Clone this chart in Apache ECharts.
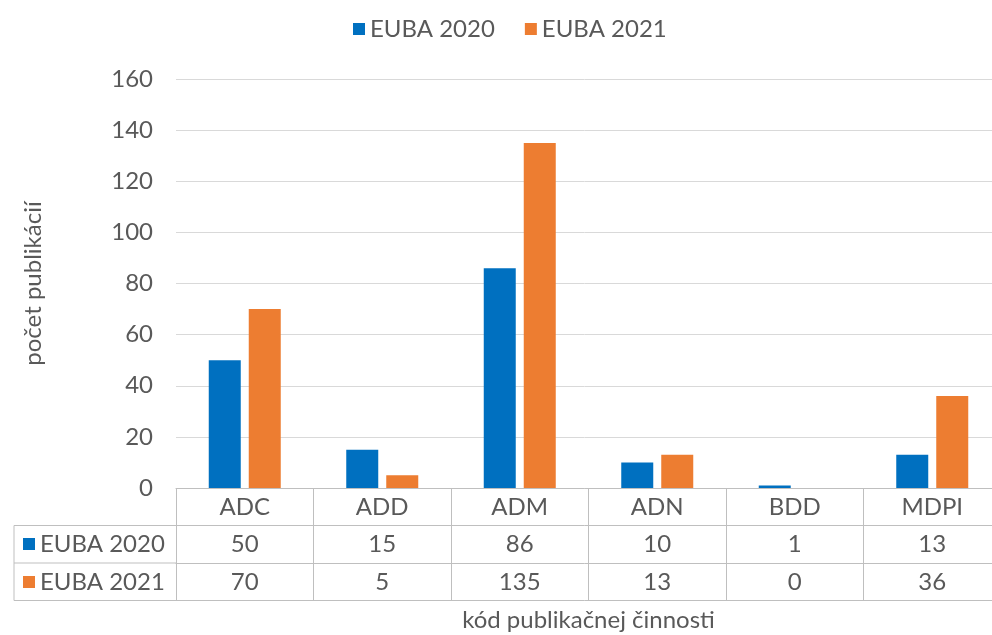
<!DOCTYPE html>
<html>
<head>
<meta charset="utf-8">
<script src="https://cdn.jsdelivr.net/npm/echarts@6/dist/echarts.min.js"></script>
<style>
  html, body { margin: 0; padding: 0; background: #fff; }
</style>
</head>
<body>
<div id="main" style="width: 992px; height: 635px"></div>
<script>
const categories = ["ADC", "ADD", "ADM", "ADN", "BDD", "MDPI"];
const seriesNames = ["EUBA 2020", "EUBA 2021"];
const euba2020 = [50, 15, 86, 10, 1, 13];
const euba2021 = [70, 5, 135, 13, 0, 36];
const yTicks = { min: 0, max: 160, interval: 20 };

const colors = ["#0070C0", "#ED7D31"];
const textColor = "#595959";
const lineColor = "#BFBFBF";
const font = "Lato";
const fs = 24;
const rowH = 37.5;

let chartMain = echarts.init(document.getElementById("main"));

// one category axis per table row, stacked under the plot
function tableAxis(offset, labels, withTicks, extra) {
  return Object.assign({
    type: "category",
    data: categories,
    position: "bottom",
    offset: offset,
    axisLine: { show: true, lineStyle: { color: lineColor, width: 1 } },
    axisTick: { show: withTicks, length: rowH, lineStyle: { color: lineColor } },
    axisLabel: {
      show: !!labels,
      margin: 7,
      interval: 0,
      fontFamily: font,
      fontSize: fs,
      color: textColor,
      formatter: function (v, i) { return labels ? String(labels[i]) : ""; },
    },
    splitLine: { show: false },
  }, extra || {});
}

let option = {
  animation: false,
  textStyle: { fontFamily: font },
  legend: {
    top: 12,
    left: 348,
    icon: "rect",
    itemWidth: 12,
    itemHeight: 12,
    itemGap: 30,
    textStyle: { fontFamily: font, fontSize: fs, color: textColor },
    data: seriesNames,
  },
  grid: { left: 176, right: -9, top: 79, bottom: 147, outerBoundsMode: "none", containLabel: false },
  yAxis: {
    type: "value",
    min: yTicks.min,
    max: yTicks.max,
    interval: yTicks.interval,
    name: "počet publikácií",
    nameLocation: "middle",
    nameGap: 131,
    nameTextStyle: { fontFamily: font, fontSize: fs, color: textColor },
    axisLine: { show: false },
    axisTick: { show: false },
    axisLabel: { fontFamily: font, fontSize: fs, color: textColor, margin: 23 },
    splitLine: { lineStyle: { color: "#D9D9D9", width: 1 } },
  },
  xAxis: [
    tableAxis(0, categories, true),
    tableAxis(rowH, euba2020, true),
    tableAxis(rowH * 2, euba2021, true),
    tableAxis(rowH * 3, null, false, {
      name: "kód publikačnej činnosti",
      nameLocation: "middle",
      nameGap: 8,
      nameTextStyle: { fontFamily: font, fontSize: fs, color: textColor },
    }),
  ],
  series: [
    {
      name: seriesNames[0],
      type: "bar",
      xAxisIndex: 0,
      data: euba2020,
      barWidth: 32,
      barGap: "25%",
      itemStyle: { color: colors[0] },
    },
    {
      name: seriesNames[1],
      type: "bar",
      xAxisIndex: 0,
      data: euba2021,
      barWidth: 32,
      barGap: "25%",
      itemStyle: { color: colors[1] },
    },
  ],
  // left part of the data table (row headers)
  graphic: [
    { type: "line", shape: { x1: 14, y1: 488 + rowH, x2: 176, y2: 488 + rowH }, style: { stroke: lineColor } },
    { type: "line", shape: { x1: 14, y1: 488 + rowH * 2, x2: 176, y2: 488 + rowH * 2 }, style: { stroke: lineColor } },
    { type: "line", shape: { x1: 14, y1: 488 + rowH * 3, x2: 176, y2: 488 + rowH * 3 }, style: { stroke: lineColor } },
    { type: "line", shape: { x1: 14, y1: 488 + rowH, x2: 14, y2: 488 + rowH * 3 }, style: { stroke: lineColor } },
    { type: "rect", shape: { x: 23, y: 538, width: 12, height: 12 }, style: { fill: colors[0] } },
    { type: "rect", shape: { x: 23, y: 576, width: 12, height: 12 }, style: { fill: colors[1] } },
    {
      type: "text", left: 40, top: 532,
      style: { text: seriesNames[0], font: fs + "px Lato", fill: textColor },
    },
    {
      type: "text", left: 40, top: 570,
      style: { text: seriesNames[1], font: fs + "px Lato", fill: textColor },
    },
  ],
};

chartMain && chartMain.setOption(option);
window.onresize = chartMain.resize;
</script>
</body>
</html>
